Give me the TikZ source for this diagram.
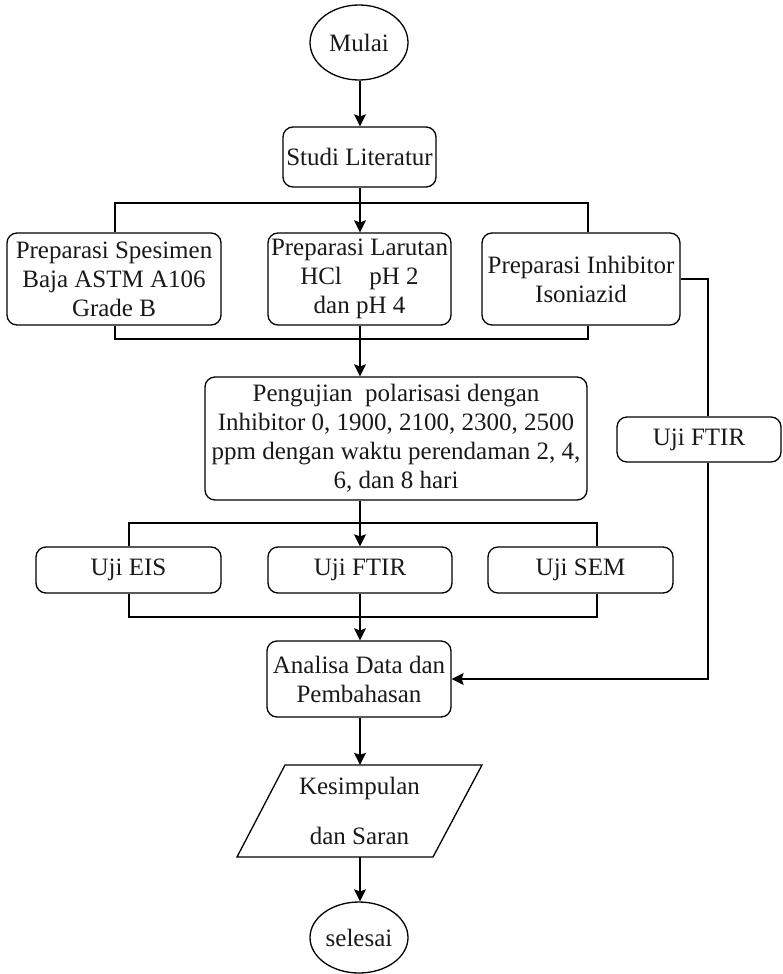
\documentclass[tikz,border=0pt]{standalone}
\usepackage{fontspec}
\setmainfont{Liberation Serif}
\usetikzlibrary{arrows.meta,shapes.geometric}
\begin{document}
\begin{tikzpicture}[x=1pt,y=-1pt,
  every node/.style={font=\fontsize{25}{29}\selectfont, text=black!90},
  flow/.style={draw, line width=1.3pt, rounded corners=10pt, align=center, inner sep=0pt},
  term/.style={draw, ellipse, line width=1.3pt, inner sep=0pt},
  link/.style={line width=1.3pt},
  arr/.style={link, -{Stealth[length=12pt,width=12pt,inset=2pt]}}
]
\useasboundingbox (0,0) rectangle (782,974);

% main vertical axis
\coordinate (ax) at (360,0);

% terminals and process boxes
\node[term, minimum width=98pt, minimum height=75pt] (mulai) at (359,42.5) {Mulai};
\node[flow, minimum width=153pt, minimum height=60pt] (studi) at (359.5,157) {Studi Literatur};

\node[flow, minimum width=214pt, minimum height=92pt] (p1) at (114,279) {Preparasi Spesimen\\Baja ASTM A106\\Grade B};
\node[flow, minimum width=183pt, minimum height=92pt] (p2) at (359.5,279) {Preparasi Larutan\\HCl\hspace{1.1em}pH 2\\dan pH 4};
\node[flow, minimum width=198pt, minimum height=92pt] (p3) at (581,279) {Preparasi Inhibitor\\Isoniazid};

\node[flow, minimum width=382pt, minimum height=123pt] (uji) at (396,438.5) {Pengujian\ \ polarisasi dengan\\Inhibitor 0, 1900, 2100, 2300, 2500\\ppm dengan waktu perendaman 2, 4,\\6, dan 8 hari};
\node[flow, minimum width=164pt, minimum height=45pt] (ftirR) at (699,439.5) {Uji FTIR};

\node[flow, minimum width=185pt, minimum height=46pt] (eis) at (128.5,570) {Uji EIS};
\node[flow, minimum width=184pt, minimum height=46pt] (ftir2) at (360,570) {Uji FTIR};
\node[flow, minimum width=185pt, minimum height=46pt] (sem) at (580.5,570) {Uji SEM};

\node[flow, minimum width=184pt, minimum height=76pt] (analisa) at (359,679) {Analisa Data dan\\Pembahasan};

% output parallelogram
\coordinate (k1) at (285,765);
\coordinate (k2) at (482,765);
\coordinate (k3) at (433,857);
\coordinate (k4) at (237,857);
\draw[link] (k1) -- (k2) -- (k3) -- (k4) -- cycle;
\node[align=center, inner sep=0pt, minimum height=92pt] (kes) at (359.5,811) {Kesimpulan\\[21pt]dan Saran};

\node[term, minimum width=98pt, minimum height=71pt] (end) at (359,937.5) {selesai};

% connectors
\draw[arr] (ax |- mulai.south) -- (ax |- studi.north);

\coordinate (bl1) at (115,203);
\coordinate (br1) at (588,203);
\draw[link] (bl1 |- p1.north) -- (bl1) -- (br1) -- (br1 |- p3.north);
\draw[arr] (ax |- studi.south) -- (ax |- p2.north);

\coordinate (bl2) at (115,339);
\coordinate (br2) at (588,339);
\draw[link] (bl2 |- p1.south) -- (bl2) -- (br2) -- (br2 |- p3.south);
\draw[arr] (ax |- p2.south) -- (ax |- uji.north);

\coordinate (bl3) at (129,523);
\coordinate (br3) at (597,523);
\draw[link] (bl3 |- eis.north) -- (bl3) -- (br3) -- (br3 |- sem.north);
\draw[arr] (ax |- uji.south) -- (ax |- ftir2.north);

\coordinate (bl4) at (129,617);
\coordinate (br4) at (597,617);
\draw[link] (bl4 |- eis.south) -- (bl4) -- (br4) -- (br4 |- sem.south);
\draw[arr] (ax |- ftir2.south) -- (ax |- analisa.north);

\coordinate (rt) at (708,279);
\draw[link] (p3.east) -- (rt) -- (rt |- ftirR.north);
\draw[arr] (rt |- ftirR.south) -- (rt |- analisa.east) -- (analisa.east);

\draw[arr] (ax |- analisa.south) -- (ax |- kes.north);
\draw[arr] (ax |- kes.south) -- (ax |- end.north);
\end{tikzpicture}
\end{document}
